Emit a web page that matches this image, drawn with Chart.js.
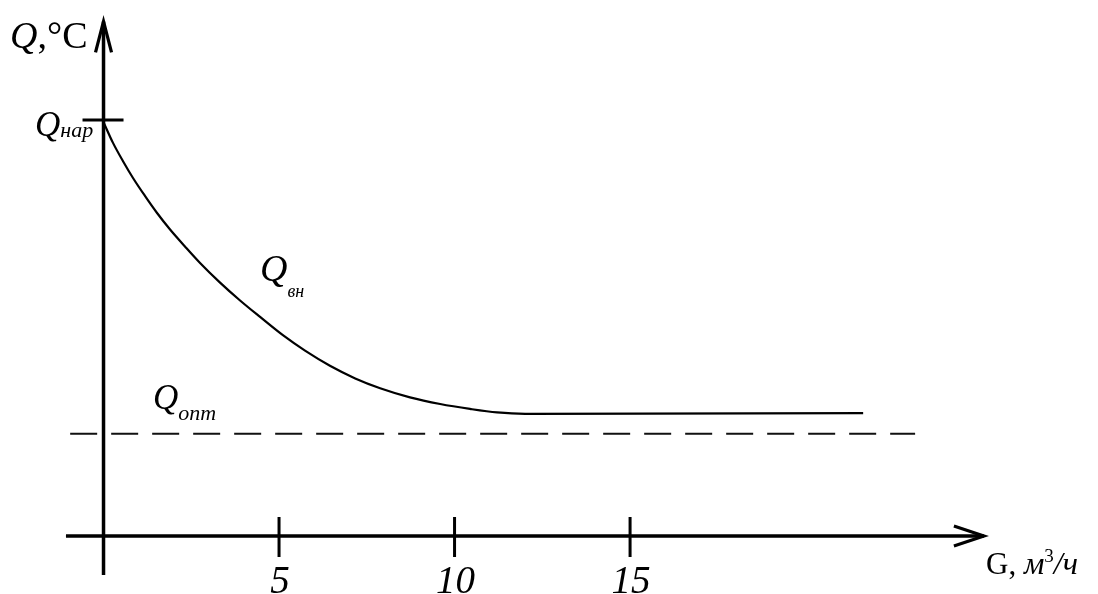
<!DOCTYPE html>
<html>
<head>
<meta charset="utf-8">
<script src="https://cdn.jsdelivr.net/npm/chart.js@4.4.1/dist/chart.umd.min.js"></script>
<style>
  html, body { margin: 0; padding: 0; background: #fff; }
  #wrap { width: 1098px; height: 594px; position: relative; }
</style>
</head>
<body>
<div id="wrap"><canvas id="chart"></canvas></div>
<script>
// G, m3/h  ->  Q inside (Q_вн)
var gValues = [0, 0.27, 0.56, 0.84, 1.18, 1.52, 1.89, 2.32, 2.75, 3.32, 3.89, 4.46, 5.11, 5.74, 6.45, 7.17, 7.88, 8.73, 9.59, 10.44, 11.21, 12.01, 21.64];
var qValues = [11.79, 11.20, 10.67, 10.20, 9.69, 9.21, 8.74, 8.25, 7.78, 7.22, 6.71, 6.24, 5.72, 5.28, 4.85, 4.49, 4.21, 3.95, 3.76, 3.62, 3.52, 3.48, 3.50];

var qNar = 11.85;          // Q_нар, value at G = 0
var qOpt = 2.91;           // Q_опт, dashed level
var qOptRange = [-0.95, 23.12];

var tickValues = [5, 10, 15];
var tickLabels = ['5', '10', '15'];

var SERIF = "'Liberation Serif', 'Times New Roman', serif";

function toPoints(xs, ys) {
  var out = [];
  for (var i = 0; i < xs.length; i++) out.push({x: xs[i], y: ys[i]});
  return out;
}

// draw a row of text pieces [text, font, dy]
function drawRuns(ctx, x, y, runs) {
  for (var i = 0; i < runs.length; i++) {
    ctx.font = runs[i][1];
    ctx.fillText(runs[i][0], x, y + (runs[i][2] || 0));
    x += ctx.measureText(runs[i][0]).width;
  }
}

var schemePlugin = {
  id: 'scheme',
  beforeDraw: function(chart) {
    var ctx = chart.ctx;
    ctx.save();
    ctx.fillStyle = '#fff';
    ctx.fillRect(0, 0, chart.width, chart.height);
    ctx.restore();
  },
  afterDatasetsDraw: function(chart) {
    var ctx = chart.ctx;
    var xs = chart.scales.x, ys = chart.scales.y;
    var x0 = xs.getPixelForValue(0), y0 = ys.getPixelForValue(0);
    ctx.save();
    ctx.strokeStyle = '#000';
    ctx.lineCap = 'butt';

    // axes
    ctx.lineWidth = 3.5;
    ctx.beginPath();
    ctx.moveTo(xs.getPixelForValue(-1.07), y0);
    ctx.lineTo(xs.getPixelForValue(25.08), y0);
    ctx.moveTo(x0, ys.getPixelForValue(-1.11));
    ctx.lineTo(x0, ys.getPixelForValue(14.66));
    ctx.stroke();

    // arrow heads
    var xe = xs.getPixelForValue(25.08), ye = ys.getPixelForValue(14.66);
    ctx.lineWidth = 3.2;
    ctx.lineJoin = 'miter';
    ctx.beginPath();
    ctx.moveTo(xe - 30, y0 - 10);
    ctx.lineTo(xe, y0);
    ctx.lineTo(xe - 30, y0 + 10);
    ctx.moveTo(x0 - 8, ye + 31);
    ctx.lineTo(x0, ye);
    ctx.lineTo(x0 + 8, ye + 31);
    ctx.stroke();

    // ticks on G axis
    ctx.lineWidth = 3;
    ctx.beginPath();
    tickValues.forEach(function(v) {
      var px = xs.getPixelForValue(v);
      ctx.moveTo(px, y0 - 19);
      ctx.lineTo(px, y0 + 21);
    });
    // Q_нар tick
    var yn = ys.getPixelForValue(qNar);
    ctx.moveTo(x0 - 21, yn);
    ctx.lineTo(x0 + 20, yn);
    ctx.stroke();

    // tick labels
    ctx.fillStyle = '#000';
    ctx.textAlign = 'center';
    ctx.textBaseline = 'alphabetic';
    ctx.font = 'italic 39px ' + SERIF;
    tickValues.forEach(function(v, i) {
      ctx.fillText(tickLabels[i], xs.getPixelForValue(v) + 1, 593);
    });

    ctx.textAlign = 'left';
    // axis titles
    drawRuns(ctx, 10, 48, [
      ['Q', 'italic 38px ' + SERIF],
      [',°C', '38px ' + SERIF]
    ]);
    drawRuns(ctx, 986, 574, [
      ['G, ', '31px ' + SERIF],
      ['м', 'italic 32px ' + SERIF],
      ['3', '19px ' + SERIF, -12],
      ['/ч', 'italic 32px ' + SERIF]
    ]);

    // curve names
    drawRuns(ctx, 35, 136, [
      ['Q', 'italic 35px ' + SERIF],
      ['нар', 'italic 22px ' + SERIF, 1]
    ]);
    drawRuns(ctx, 260, 281, [
      ['Q', 'italic 38px ' + SERIF],
      ['вн', 'italic 18px ' + SERIF, 16]
    ]);
    drawRuns(ctx, 153, 409, [
      ['Q', 'italic 35px ' + SERIF],
      ['опт', 'italic 22px ' + SERIF, 11]
    ]);
    ctx.restore();
  }
};

new Chart(document.getElementById('chart').getContext('2d'), {
  type: 'scatter',
  data: {
    datasets: [
      {
        data: toPoints(gValues, qValues),
        showLine: true,
        borderColor: '#000',
        borderWidth: 2.2,
        pointRadius: 0,
        cubicInterpolationMode: 'monotone'
      },
      {
        data: toPoints(qOptRange, [qOpt, qOpt]),
        showLine: true,
        borderColor: '#111',
        borderWidth: 2,
        borderDash: [27, 14],
        pointRadius: 0
      }
    ]
  },
  options: {
    responsive: true,
    maintainAspectRatio: false,
    animation: false,
    layout: { padding: 0 },
    plugins: {
      legend: { display: false },
      tooltip: { enabled: false }
    },
    scales: {
      x: { type: 'linear', min: -2.949, max: 28.33, display: false },
      y: { type: 'linear', min: -1.652, max: 15.27, display: false }
    }
  },
  plugins: [schemePlugin]
});
</script>
</body>
</html>
